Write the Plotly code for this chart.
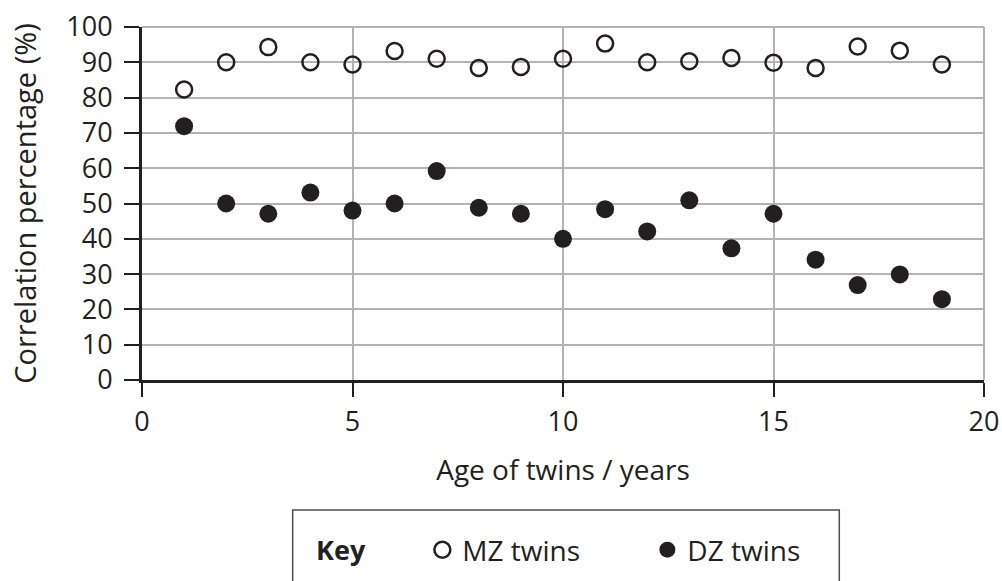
import plotly.graph_objects as go

ages = list(range(1, 20))
mz_twins = [82.3, 90.0, 94.3, 90.0, 89.4, 93.2, 91.0, 88.4, 88.7, 91.0,
            95.3, 90.0, 90.3, 91.2, 89.9, 88.4, 94.5, 93.3, 89.4]
dz_twins = [71.9, 50.0, 47.1, 53.1, 48.0, 50.0, 59.2, 48.8, 47.1, 40.0,
            48.4, 42.1, 50.9, 37.3, 47.1, 34.1, 26.9, 29.9, 22.9]
x_ticks = [0, 5, 10, 15, 20]
y_ticks = [0, 10, 20, 30, 40, 50, 60, 70, 80, 90, 100]

INK = "#231f20"
GRID = "#b3b3b3"
FONT = "Open Sans"

W, H = 1002, 581
L, R, T, B = 142, 18, 27, 201
PW, PH = W - L - R, H - T - B


def px_x(p):
    return (p - L) / PW


def px_y(p):
    return (H - B - p) / PH


fig = go.Figure()
fig.add_trace(go.Scatter(
    x=ages, y=mz_twins, mode="markers", name="MZ twins",
    marker=dict(symbol="circle-open", size=16, color=INK, line=dict(width=2.5, color=INK)),
))
fig.add_trace(go.Scatter(
    x=ages, y=dz_twins, mode="markers", name="DZ twins",
    marker=dict(symbol="circle", size=18, color=INK),
))

# key box (open at the bottom)
fig.add_shape(
    type="path", xref="paper", yref="paper",
    path=f"M {px_x(292.7)} {px_y(600)} L {px_x(292.7)} {px_y(510)} L {px_x(839.3)} {px_y(510)} L {px_x(839.3)} {px_y(600)}",
    line=dict(color="#4d4d4d", width=1.5),
)
# grey frame on top/right
fig.add_shape(type="line", xref="paper", yref="paper", x0=0, x1=1, y0=1, y1=1,
              line=dict(color=GRID, width=2), layer="below")
fig.add_shape(type="line", xref="paper", yref="paper", x0=1, x1=1, y0=0, y1=1,
              line=dict(color=GRID, width=2), layer="below")

fig.update_layout(
    width=W, height=H,
    margin=dict(l=L, r=R, t=T, b=B, autoexpand=False),
    paper_bgcolor="white", plot_bgcolor="white",
    font=dict(family=FONT, size=27, color=INK),
    showlegend=True,
    legend=dict(
        orientation="h", x=px_x(314), y=px_y(550), xanchor="left", yanchor="middle",
        title=dict(text="<b>Key</b>" + "&nbsp;" * 7, font=dict(family=FONT, size=27, color=INK), side="left"),
        font=dict(family=FONT, size=28, color=INK),
        entrywidth=180, entrywidthmode="pixels",
        bgcolor="rgba(0,0,0,0)", borderwidth=0,
    ),
    xaxis=dict(
        range=[0, 20], tickvals=x_ticks, ticktext=[str(v) for v in x_ticks],
        showgrid=True, gridcolor=GRID, gridwidth=2,
        showline=True, linecolor=INK, linewidth=3,
        ticks="outside", ticklen=14, tickwidth=2, tickcolor=INK,
        zeroline=False, fixedrange=True, ticklabeloverflow="allow",
        ticklabelstandoff=2,
        title=dict(text="Age of twins / years", standoff=22, font=dict(size=28)),
        tickfont=dict(size=27),
    ),
    yaxis=dict(
        range=[0, 100], tickvals=y_ticks, ticktext=[str(v) for v in y_ticks],
        showgrid=True, gridcolor=GRID, gridwidth=2,
        showline=True, linecolor=INK, linewidth=3,
        ticks="outside", ticklen=15, tickwidth=2, tickcolor=INK,
        zeroline=False, fixedrange=True, ticklabeloverflow="allow",
        ticklabelstandoff=6,
        title=dict(text="Correlation percentage (%)", standoff=22, font=dict(size=29)),
        tickfont=dict(size=27),
    ),
)

fig.write_html(
    "out.html",
    config={"displayModeBar": False},
    post_script="document.body.style.margin='0';document.body.style.overflow='hidden';",
)
